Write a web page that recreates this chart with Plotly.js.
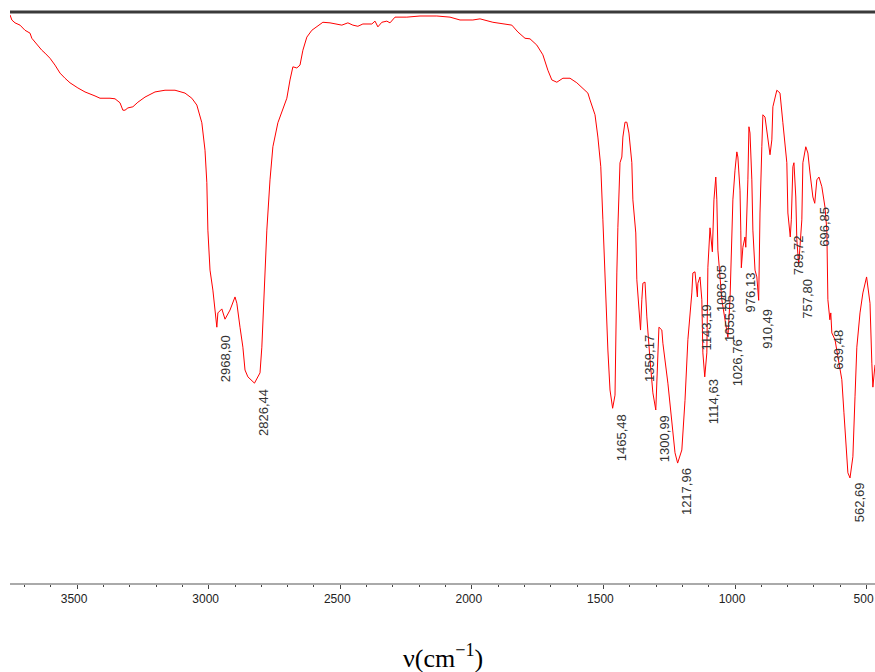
<!DOCTYPE html>
<html>
<head>
<meta charset="utf-8">
<script src="https://cdn.plot.ly/plotly-3.0.1.min.js"></script>
<style>html,body{margin:0;padding:0;background:#fff;}#chart{width:875px;height:672px;}</style>
</head>
<body>
<div id="chart"></div>
<script>
// Wavenumber (cm^-1) of the traced spectrum points
const wavenumber = [3755,3748,3736,3717,3698,3679,3672,3660,3649,3634,3622,3603,3584,3565,3546,3527,3497,3470,3432,3413,3375,3356,3337,3326,3318,3307,3288,3269,3242,3204,3166,3128,3090,3064,3045,3033,3026,3014,3007,3003,2995,2984,2976,2969,2965,2950,2938,2919,2900,2893,2881,2870,2862,2851,2826,2805,2798,2786,2779,2767,2756,2737,2722,2703,2691,2680,2665,2653,2642,2627,2608,2589,2566,2539,2520,2494,2471,2452,2433,2414,2380,2368,2357,2342,2323,2311,2292,2247,2197,2133,2083,2045,1996,1969,1920,1867,1848,1825,1798,1779,1753,1730,1711,1696,1677,1654,1627,1601,1578,1559,1551,1532,1521,1510,1502,1494,1487,1483,1475,1465,1456,1453,1449,1445,1437,1430,1426,1418,1411,1403,1392,1388,1377,1373,1365,1359,1354,1350,1342,1339,1335,1323,1312,1301,1297,1293,1289,1278,1274,1255,1240,1228,1218,1202,1190,1179,1164,1160,1152,1143,1141,1133,1126,1122,1115,1107,1103,1099,1095,1086,1080,1073,1069,1065,1055,1050,1038,1027,1019,1012,1008,1000,993,989,981,978,976,970,962,959,955,951,947,943,936,932,924,917,910,905,898,894,886,879,875,867,860,856,841,829,818,803,799,790,786,780,776,769,765,758,746,742,731,723,715,704,697,689,681,670,658,651,647,639.5,636,632,620,609,594,586,579,571,563,552,544,537,525,514,500,495,487,480,476,468];
// Transmittance (arbitrary %, 0 = bottom axis, 100 = top frame)
const transmittance = [99.5,98.6,98.1,97.7,96.8,96.3,95.4,94.7,94.2,93.3,92.8,91.9,90.7,89.3,88.4,87.6,86.7,86.0,85.3,84.9,84.9,84.8,84.1,82.8,82.8,83.2,83.4,84.2,85.1,86.0,86.3,86.3,85.8,84.9,83.7,82.0,80.6,75.8,70.1,61.8,54.8,51.3,47.3,44.8,47.3,48.0,46.2,47.8,50.1,49.0,44.8,41.3,37.3,36.1,35.0,36.8,41.3,53.1,61.8,70.6,76.4,80.6,82.5,84.9,88.1,90.4,90.2,90.7,93.3,95.6,96.8,97.4,98.2,98.1,97.9,97.7,98.1,97.7,97.5,97.9,97.9,98.4,97.4,98.2,98.4,98.1,99.1,99.1,99.3,99.3,99.1,98.6,98.6,98.8,98.2,97.9,97.7,96.5,95.4,95.3,94.2,92.5,89.8,88.1,87.7,88.4,88.4,87.6,86.7,85.8,84.6,82.0,78.1,72.9,63.6,53.6,46.6,40.8,33.8,30.6,32.9,43.8,54.3,62.3,73.6,74.6,78.1,80.7,80.7,78.8,73.6,67.1,61.3,53.1,47.3,44.3,49.6,52.5,52.7,49.6,46.6,39.1,33.3,30.3,35.0,42.6,44.8,44.3,42.0,35.0,28.5,22.8,21.0,23.3,32.0,42.6,50.8,54.3,54.5,50.1,52.5,53.6,49.6,40.3,36.1,40.3,55.3,60.1,62.2,58.0,67.1,71.1,67.1,58.3,51.3,49.6,46.1,43.0,49.6,60.1,67.1,72.3,75.5,74.6,68.8,61.8,55.2,58.8,60.6,58.8,63.6,70.6,79.9,78.8,70.6,61.8,54.8,53.6,49.5,64.8,76.4,82.0,81.6,79.3,78.1,75.0,77.6,83.4,86.3,85.8,80.6,73.6,64.8,60.6,63.6,72.9,73.6,67.6,60.1,55.7,63.6,73.6,76.4,75.3,71.8,67.6,66.5,70.6,71.1,69.4,65.8,61.8,49.6,46.1,47.3,43.8,42.6,39.6,35.6,29.8,23.8,19.3,18.4,22.1,32.6,41.3,47.3,50.8,53.6,51.8,49.0,38.5,34.3,38.2];

// Peak labels
const peakWn = [2968.90,2826.44,1465.48,1359.17,1300.99,1217.96,1143.19,1114.63,1086.05,1055.05,1026.76,976.13,910.49,789.72,757.80,696.85,639.48,562.69];
const peakT = [44.5,35.0,30.6,44.5,30.5,21.2,49.9,36.8,56.7,51.5,43.8,55.5,49.0,62.0,54.3,66.9,45.4,18.7];
const peakLabels = ["2968,90","2826,44","1465,48","1359,17","1300,99","1217,96","1143,19","1114,63","1086,05","1055,05","1026,76","976,13","910,49","789,72","757,80","696,85","639,48","562,69"];

const tickVals = [3500,3000,2500,2000,1500,1000,500];
const tickText = ["3500","3000","2500","2000","1500","1000","500"];
const axisTitle = "ν(cm<sup>−1</sup>)";

const trace = {
  x: wavenumber, y: transmittance, type: 'scatter', mode: 'lines',
  line: {color: '#ff0000', width: 1}, hoverinfo: 'skip'
};

const annotations = peakWn.map((w, i) => ({
  x: w, y: peakT[i], xref: 'x', yref: 'y', text: peakLabels[i],
  showarrow: false, textangle: -90, xanchor: 'center', yanchor: 'top',
  xshift: 9, yshift: -4,
  font: {family: 'Liberation Sans, Arial, sans-serif', size: 13, color: '#333'}
}));
annotations.push({
  x: 0.5, y: -0.128, xref: 'paper', yref: 'paper', text: axisTitle,
  showarrow: false, xanchor: 'center', yanchor: 'middle',
  font: {family: 'Liberation Serif, Times New Roman, serif', size: 26, color: '#000'}
});

const layout = {
  width: 875, height: 672,
  margin: {l: 10, r: 0, t: 12, b: 89, pad: 0},
  paper_bgcolor: '#fff', plot_bgcolor: '#fff',
  showlegend: false,
  xaxis: {
    range: [3755, 468], showgrid: false, zeroline: false,
    showline: true, linecolor: '#aaaaaa', linewidth: 2,
    tickmode: 'array', tickvals: tickVals, ticktext: tickText,
    ticks: 'outside', ticklen: 4, tickwidth: 1, tickcolor: '#444',
    ticklabelshift: 3, ticklabeloverflow: 'allow',
    minor: {dtick: 100, ticks: 'outside', ticklen: 2, tickwidth: 1, tickcolor: '#444'},
    tickfont: {family: 'Liberation Sans, Arial, sans-serif', size: 12, color: '#222'}
  },
  yaxis: {range: [0, 100], visible: false, fixedrange: true},
  shapes: [{
    type: 'line', xref: 'paper', yref: 'paper', x0: 0, x1: 1, y0: 1, y1: 1,
    line: {color: '#3a3a3a', width: 3}
  }],
  annotations: annotations
};

Plotly.newPlot('chart', [trace], layout, {staticPlot: true, displayModeBar: false});
</script>
</body>
</html>
